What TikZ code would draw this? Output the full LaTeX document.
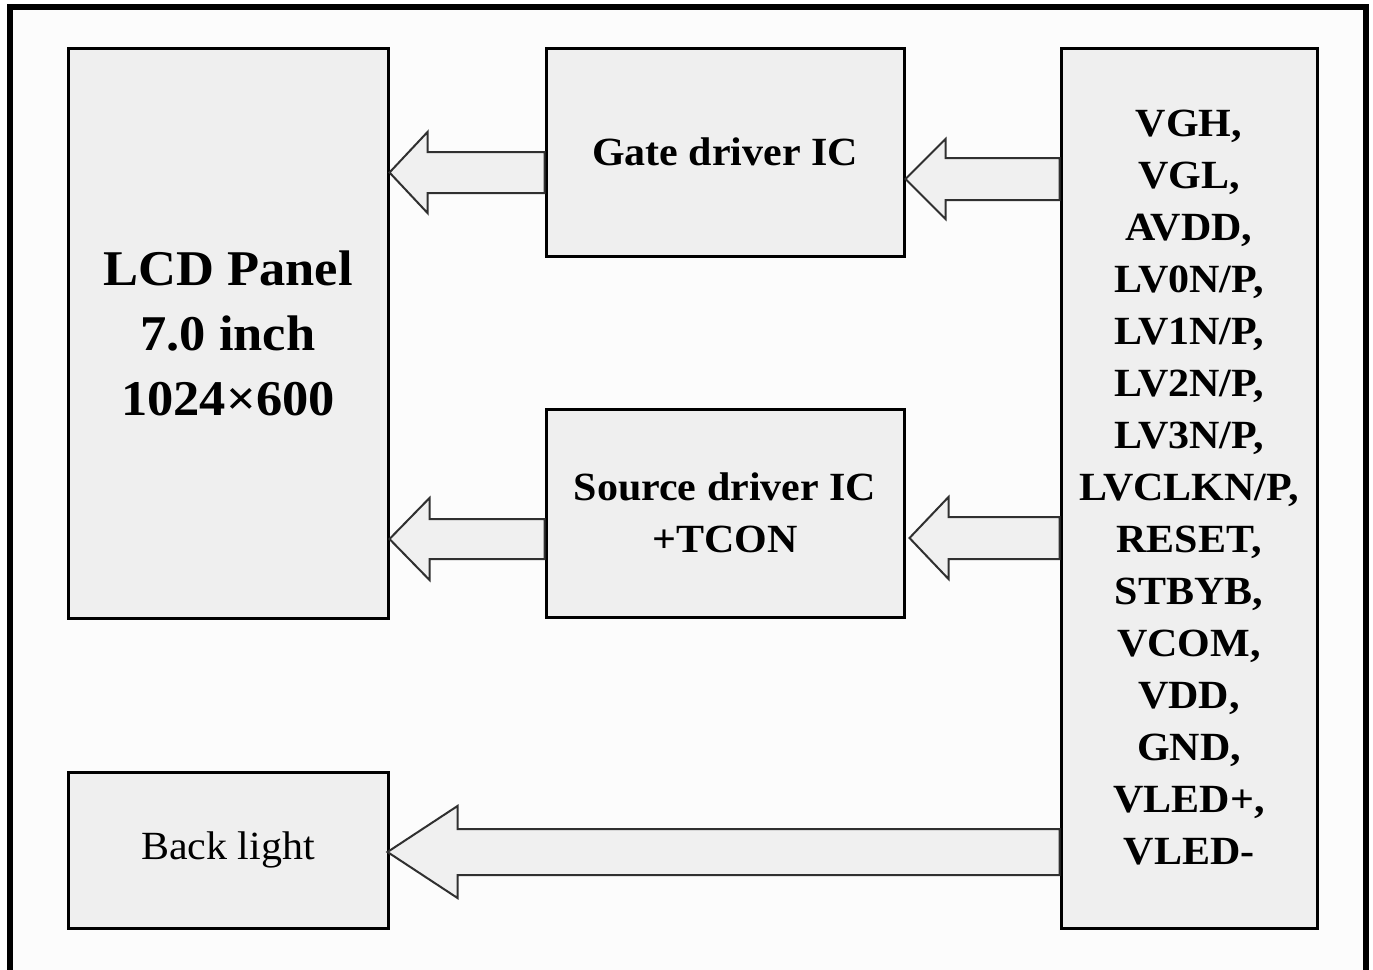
\documentclass[tikz,border=0pt]{standalone}
\usepackage{fontspec}
\setmainfont[FakeStretch=1.05]{Liberation Serif}
\usetikzlibrary{calc}
\definecolor{boxfill}{HTML}{EFEFEF}
\definecolor{arrfill}{HTML}{F0F0F0}
\definecolor{inner}{HTML}{FCFCFC}
\definecolor{arrline}{HTML}{303030}
\tikzset{
  blk/.style={draw=black, line width=3pt, fill=boxfill, inner sep=0pt, align=center},
  bigtxt/.style={font={\fontsize{50}{65}\selectfont\bfseries}},
  midtxt/.style={font={\fontsize{40}{52}\selectfont\bfseries}},
  plaintxt/.style={font={\fontsize{40}{52}\selectfont}},
  barrow/.style={draw=arrline, line width=2pt, fill=arrfill, line join=miter}
}
% #1 tip point, #2 tail point, #3 head length, #4 shaft half width, #5 head half width
\newcommand\blkarrow[5]{%
  \draw[barrow] (#1) -- ($(#1)+(#3,-#5)$) -- ($(#1)+(#3,-#4)$) -- ($(#2)+(0,-#4)$)
    -- ($(#2)+(0,#4)$) -- ($(#1)+(#3,#4)$) -- ($(#1)+(#3,#5)$) -- cycle;}
\begin{document}
\begin{tikzpicture}[x=1pt,y=-1pt]
\useasboundingbox (0,0) rectangle (1373,969);
\fill[white] (0,0) rectangle (1373,969);
\fill[inner] (10,6.5) rectangle (1365.5,975);
\draw[line width=6pt] (10,975) -- (10,6.5) -- (1365.5,6.5) -- (1365.5,975);

\node[blk, minimum width=320pt, minimum height=570pt, bigtxt] (lcd) at (228,333)
  {LCD Panel\\7.0 inch\\1024×600};
\node[blk, minimum width=358pt, minimum height=208pt, midtxt] (gate) at (725,152)
  {Gate driver IC};
\node[blk, minimum width=358pt, minimum height=208pt, midtxt] (src) at (725,513)
  {Source driver IC\\+TCON};
\node[blk, minimum width=256pt, minimum height=880pt, midtxt] (sig) at (1189,488)
  {VGH,\\VGL,\\AVDD,\\LV0N/P,\\LV1N/P,\\LV2N/P,\\LV3N/P,\\LVCLKN/P,\\RESET,\\STBYB,\\VCOM,\\VDD,\\GND,\\VLED+,\\VLED-};
\node[blk, minimum width=320pt, minimum height=156pt, plaintxt] (bl) at (228,850)
  {Back light};

\coordinate (y1) at (0,172.5);
\coordinate (y2) at (0,179);
\coordinate (y3) at (0,539);
\coordinate (y4) at (0,538);
\coordinate (y5) at (0,852);

\blkarrow{lcd.east |- y1}{gate.west |- y1}{38}{20.5}{40.5}
\blkarrow{gate.east |- y2}{sig.west |- y2}{40}{21}{40}
\blkarrow{lcd.east |- y3}{src.west |- y3}{40}{20}{41}
\blkarrow{$(src.east |- y4)+(4,0)$}{sig.west |- y4}{39}{21}{41}
\blkarrow{$(bl.east |- y5)+(-2,0)$}{sig.west |- y5}{70}{23}{46}
\end{tikzpicture}
\end{document}
